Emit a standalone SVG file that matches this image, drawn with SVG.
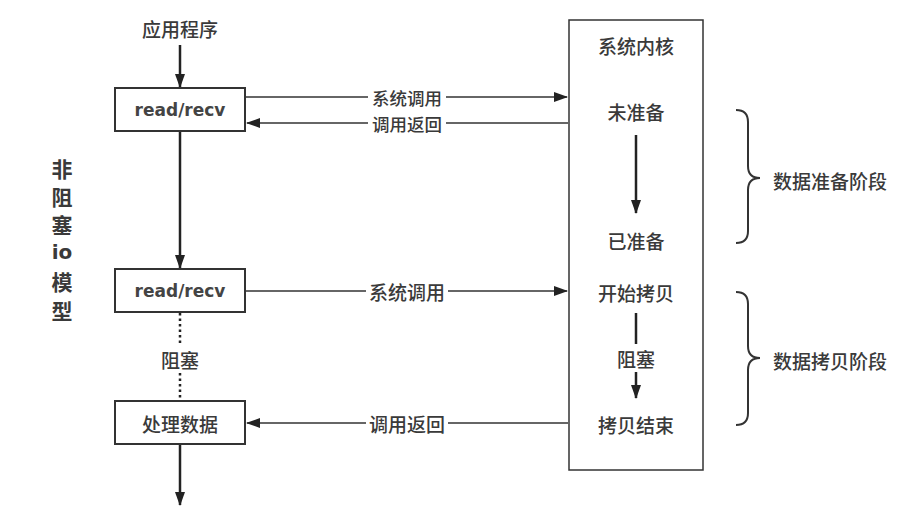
<svg xmlns="http://www.w3.org/2000/svg" width="913" height="520" viewBox="0 0 913 520">
<defs>
<marker id="ahl" markerWidth="14" markerHeight="10" refX="13" refY="5" orient="auto" markerUnits="userSpaceOnUse">
<path d="M0,0 L14,5 L0,10 Z" fill="#222"/>
</marker>
<style>
text{font-family:"Noto Sans CJK SC","DejaVu Sans",sans-serif;fill:#3a3a3a;text-anchor:middle;dominant-baseline:central}
.lbl{font-size:19px;font-weight:500}
.sm{font-size:17.5px}
.en{font-family:"DejaVu Sans",sans-serif;font-size:17px;font-weight:bold;fill:#444}
.big{font-size:21px;font-weight:bold}
.box{fill:#fff;stroke:#333;stroke-width:2}
.ln{stroke:#333;stroke-width:1.5;fill:none}
.thick{stroke:#222;stroke-width:2.5;fill:none}
.brace{stroke:#333;stroke-width:2;fill:none}
</style>
</defs>
<rect width="913" height="520" fill="#fff"/>
<g id="title">
<text class="lbl" x="180" y="28">应用程序</text>
</g>
<g id="side">
<text class="big" x="62" y="168">非</text>
<text class="big" x="62" y="196">阻</text>
<text class="big" x="62" y="224">塞</text>
<text class="big" x="62" y="252" style="font-family:'DejaVu Sans',sans-serif;font-size:20px">io</text>
<text class="big" x="62" y="281">模</text>
<text class="big" x="62" y="310">型</text>
</g>
<g id="connectors">
<line class="thick" x1="180" y1="45" x2="180" y2="87" marker-end="url(#ahl)"/>
<line class="thick" x1="180" y1="132" x2="180" y2="268" marker-end="url(#ahl)"/>
<line class="thick" x1="180" y1="313" x2="180" y2="346" stroke-dasharray="2.5,3"/>
<line class="thick" x1="180" y1="373" x2="180" y2="400" stroke-dasharray="2.5,3"/>
<line class="thick" x1="180" y1="445" x2="180" y2="505" marker-end="url(#ahl)"/>
<line class="ln" x1="246" y1="97" x2="368" y2="97"/>
<line class="ln" x1="446" y1="97" x2="567" y2="97" marker-end="url(#ahl)"/>
<line class="ln" x1="568" y1="123" x2="446" y2="123"/>
<line class="ln" x1="368" y1="123" x2="247" y2="123" marker-end="url(#ahl)"/>
<line class="ln" x1="246" y1="291" x2="366" y2="291"/>
<line class="ln" x1="448" y1="291" x2="567" y2="291" marker-end="url(#ahl)"/>
<line class="ln" x1="568" y1="423" x2="448" y2="423"/>
<line class="ln" x1="366" y1="423" x2="247" y2="423" marker-end="url(#ahl)"/>
<line class="thick" x1="636" y1="135" x2="636" y2="213" marker-end="url(#ahl)"/>
<line class="thick" x1="636" y1="313" x2="636" y2="344"/>
<line class="thick" x1="636" y1="372" x2="636" y2="398" marker-end="url(#ahl)"/>
<path class="brace" d="M736,110 Q748,110 748,122 L748,166 Q748,178 760,178 Q748,178 748,190 L748,231 Q748,243 736,243"/>
<path class="brace" d="M736,292 Q748,292 748,304 L748,346 Q748,358 760,358 Q748,358 748,370 L748,413 Q748,425 736,425"/>
</g>
<g id="conn-labels">
<text class="lbl sm" x="407" y="97">系统调用</text>
<text class="lbl sm" x="407" y="123">调用返回</text>
<text class="lbl" x="407" y="291">系统调用</text>
<text class="lbl" x="407" y="423">调用返回</text>
</g>
<g id="read1">
<rect class="box" x="115" y="88" width="130" height="43"/>
<text class="en" x="180" y="110">read/recv</text>
</g>
<g id="read2">
<rect class="box" x="115" y="269" width="130" height="43"/>
<text class="en" x="180" y="291">read/recv</text>
</g>
<g id="block-label">
<text class="lbl" x="180" y="359">阻塞</text>
</g>
<g id="process">
<rect class="box" x="115" y="401" width="130" height="43"/>
<text class="lbl" x="180" y="423">处理数据</text>
</g>
<g id="kernel">
<rect x="569" y="20" width="134" height="450" fill="none" stroke="#333" stroke-width="1.5"/>
<text class="lbl" x="636" y="45">系统内核</text>
<text class="lbl" x="636" y="111">未准备</text>
<text class="lbl" x="636" y="240">已准备</text>
<text class="lbl" x="636" y="292">开始拷贝</text>
<text class="lbl" x="636" y="358">阻塞</text>
<text class="lbl" x="636" y="424">拷贝结束</text>
</g>
<g id="phase1">
<text class="lbl" x="830" y="180">数据准备阶段</text>
</g>
<g id="phase2">
<text class="lbl" x="830" y="360">数据拷贝阶段</text>
</g>
</svg>
